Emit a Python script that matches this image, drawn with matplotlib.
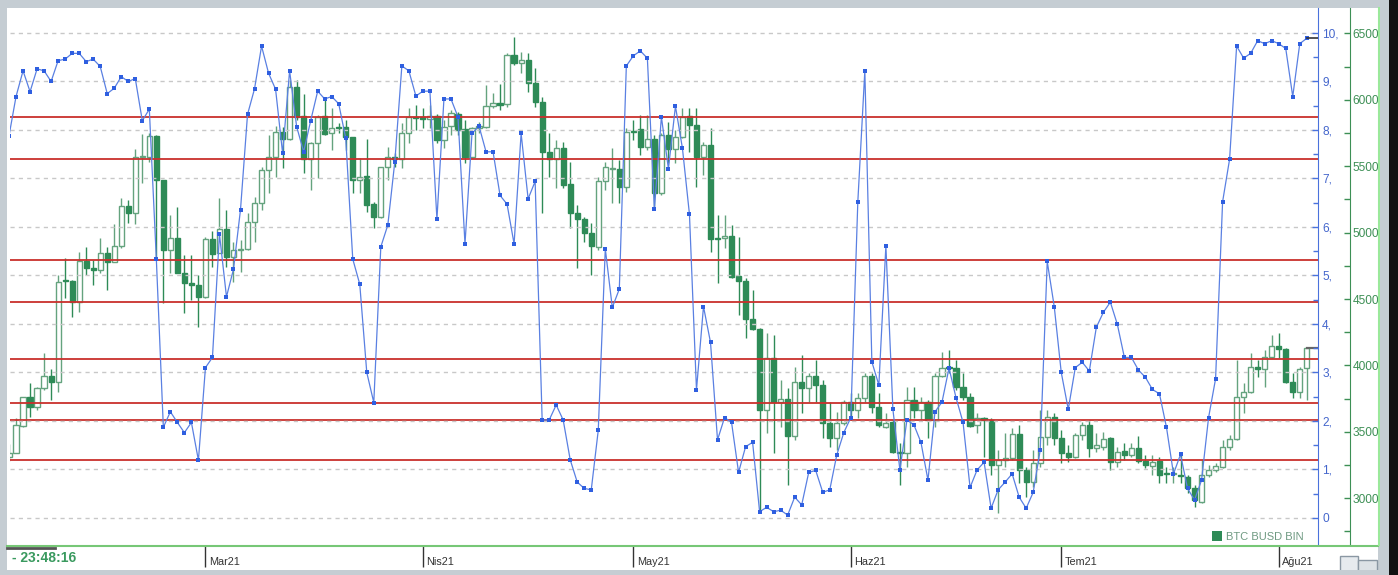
import numpy as np
import pandas as pd
import matplotlib
matplotlib.use("Agg")
from matplotlib import pyplot as plt
from matplotlib.patches import Rectangle
from matplotlib.lines import Line2D

plt.rcParams['font.family'] = ['Liberation Sans', 'DejaVu Sans']

# daily candles, 1 Feb 2021 .. 5 Aug 2021 (BTC BUSD, Binance)
dates = pd.date_range("2021-02-01", "2021-08-05", freq="D")

opens = [33100, 33440, 35440, 37600, 36900, 38280, 39210, 38780, 46400, 46390,
         44810, 47890, 47320, 47190, 48500, 47820, 49000, 52010, 51460, 55730,
         55730, 57280, 53970, 48700, 49580, 46940, 46190, 46060, 45130, 49500,
         48450, 50250, 48200, 48700, 48750, 50830, 52260, 54720, 55680, 57610,
         57030, 61000, 58790, 55520, 56780, 58790, 57480, 57930, 57930, 57180,
         53970, 54270, 52140, 51210, 54920, 55680, 55520, 57480, 58690, 58690,
         58540, 58790, 56980, 58030, 58940, 57780, 55730, 57860, 57980, 59540,
         59790, 59670, 63380, 62750, 63000, 61250, 59870, 56100, 55520, 56350,
         53640, 51510, 51010, 49950, 48950, 53890, 54770, 54770, 53470, 57660,
         57780, 56430, 57030, 53010, 57360, 56280, 57180, 58790, 58110, 55730,
         56600, 49580, 49580, 49750, 46740, 46360, 43480, 42720, 36650, 40540,
         37280, 37450, 34690, 38780, 38280, 39210, 38530, 35650, 34520, 35650,
         37280, 36650, 37530, 39210, 36850, 35390, 35770, 33510, 33390, 37400,
         36650, 37280, 35900, 39210, 39860, 39790, 38410, 37650, 35520, 36070,
         35900, 32510, 32880, 33010, 34820, 32130, 31250, 32630, 34640, 36150,
         34570, 33390, 33140, 34770, 35520, 33760, 33890, 34520, 32760, 33560,
         33260, 33810, 32830, 32430, 32830, 31850, 31810, 31750, 31580, 30750,
         29750, 31750, 32130, 32380, 33840, 34440, 37650, 38030, 39860, 39710,
         40620, 41470, 41220, 38780, 38030, 39790]
highs = [34100, 36020, 37650, 38660, 38410, 40920, 39710, 46810, 48070, 46440,
         48570, 48950, 47940, 49580, 48950, 50660, 52590, 52460, 56280, 57430,
         57480, 57360, 53970, 51330, 51960, 48320, 48320, 46810, 49650, 50150,
         52590, 51710, 49320, 49450, 51460, 52710, 54970, 57360, 58030, 57980,
         61500, 61500, 60440, 56850, 58860, 59990, 59360, 58230, 58490, 57230,
         55600, 57030, 52340, 54970, 56480, 55980, 58240, 59360, 59620, 59360,
         59620, 58940, 58490, 59240, 59110, 58490, 57980, 58360, 61120, 60490,
         61200, 63510, 64760, 63630, 63510, 62380, 60240, 57480, 56980, 56850,
         55350, 52090, 51210, 50710, 54220, 55350, 56350, 55470, 57860, 58490,
         58860, 58860, 57360, 57480, 58360, 57730, 59360, 59360, 59360, 56850,
         57860, 51330, 51330, 50580, 49700, 46560, 45690, 42800, 42420, 42300,
         38910, 38280, 39910, 40790, 39410, 40410, 38910, 37280, 36520, 37400,
         37900, 37900, 39410, 39410, 37900, 36400, 35900, 34140, 38410, 38410,
         37650, 37400, 39410, 41040, 41170, 40410, 39410, 37900, 36450, 36150,
         36020, 33640, 34890, 35270, 35520, 32380, 33640, 36650, 36650, 36400,
         35140, 34010, 34890, 35770, 35900, 34890, 35020, 34640, 33890, 34140,
         34190, 34690, 33260, 33260, 33140, 32380, 32380, 33390, 31750, 31000,
         32880, 32510, 32630, 34390, 34770, 40410, 38660, 40920, 40410, 41170,
         42300, 42470, 41290, 39410, 39910, 41290]
lows = [32800, 33390, 35390, 36150, 36650, 38160, 37400, 38030, 45060, 43680,
        44050, 46810, 46060, 46940, 45690, 47820, 48820, 50710, 50660, 53770,
        55350, 47940, 44730, 46940, 46940, 43980, 44930, 42920, 45060, 47440,
        48700, 47440, 46310, 47070, 48700, 49320, 51710, 52960, 54220, 54850,
        56980, 58490, 54470, 53220, 54090, 57360, 56230, 57530, 56230, 52960,
        52960, 51580, 50330, 51080, 53970, 54970, 54850, 56730, 57730, 57860,
        57860, 56730, 56350, 57360, 57360, 55220, 55600, 57480, 57860, 59360,
        59240, 59490, 62630, 62000, 60620, 59490, 51510, 54220, 53340, 53340,
        50330, 47320, 49320, 46810, 48700, 53220, 52210, 52210, 53090, 56980,
        55850, 56230, 51830, 52840, 55220, 55220, 57110, 56100, 53470, 54340,
        48570, 46190, 48820, 46560, 43800, 42050, 42670, 28870, 34890, 33390,
        35390, 31000, 34390, 36400, 37280, 37280, 34520, 33890, 33640, 35520,
        35900, 36020, 37280, 36400, 35390, 35270, 33390, 31000, 32380, 36020,
        35900, 34520, 35390, 39160, 39410, 38160, 37400, 35390, 34890, 33140,
        31750, 28870, 32380, 32880, 31130, 30120, 30880, 32380, 34010, 34010,
        32630, 32760, 33010, 34390, 33140, 33510, 33640, 32130, 32380, 32880,
        33140, 32630, 32260, 31750, 31130, 31130, 31130, 31130, 30370, 29370,
        29620, 31630, 32010, 32260, 33640, 34390, 36400, 37900, 39160, 38410,
        40540, 40540, 38660, 37530, 37530, 37400]
closes = [33440, 35520, 37600, 36900, 38280, 39210, 38780, 46310, 46330, 44810,
          47890, 47320, 47190, 48500, 47820, 49000, 52010, 51460, 55730, 55780,
          57280, 53970, 48700, 49580, 46940, 46190, 46060, 45130, 49500, 48400,
          50250, 48200, 48700, 48750, 50830, 52260, 54720, 55680, 57610, 57030,
          61000, 58740, 55520, 56780, 58740, 57430, 57860, 57860, 57180, 53970,
          54220, 52090, 51210, 54920, 55680, 55520, 57480, 58690, 58610, 58540,
          58790, 56980, 57980, 58990, 57730, 55730, 57860, 58030, 59540, 59790,
          59620, 63380, 62750, 63000, 61250, 59870, 56100, 55520, 56350, 53590,
          51510, 51010, 49950, 49000, 53890, 54920, 54850, 53470, 57610, 57600,
          56430, 57030, 53010, 57360, 56280, 57230, 58740, 58110, 55680, 56600,
          49500, 49500, 49750, 46690, 46360, 43480, 42720, 36650, 40540, 37280,
          37450, 34690, 38780, 38280, 39210, 38530, 35650, 34520, 35650, 37280,
          36650, 37530, 39210, 36850, 35520, 35650, 33510, 33390, 37400, 36650,
          37280, 35900, 39210, 39790, 39790, 38410, 37650, 35440, 36070, 35900,
          32510, 32880, 33010, 34820, 32130, 31250, 32630, 34640, 36150, 34520,
          33390, 33140, 34770, 35520, 33760, 34010, 34440, 32760, 33510, 33260,
          33760, 32830, 32510, 32760, 31750, 31810, 31850, 31700, 30750, 29870,
          31750, 32130, 32430, 33890, 34440, 37650, 38030, 39860, 39710, 40620,
          41470, 41220, 38780, 38030, 39710, 41290]

# oscillator (0..10 scale, blue)
osc = [7.88, 8.69, 9.22, 8.79, 9.26, 9.22, 9.00, 9.43, 9.46, 9.58,
       9.58, 9.41, 9.46, 9.31, 8.75, 8.86, 9.10, 9.00, 9.06, 8.19,
       8.43, 5.34, 1.87, 2.19, 1.97, 1.76, 1.97, 1.19, 3.10, 3.31,
       5.85, 4.56, 5.13, 6.36, 8.32, 8.85, 9.73, 9.17, 8.84, 7.52,
       9.22, 8.07, 7.55, 8.19, 8.80, 8.64, 8.69, 8.54, 7.83, 5.34,
       4.82, 3.00, 2.38, 5.59, 6.04, 7.35, 9.32, 9.22, 8.70, 8.80,
       8.80, 6.16, 8.64, 8.64, 8.27, 5.65, 7.93, 8.08, 7.55, 7.55,
       6.65, 6.47, 5.65, 7.93, 6.58, 6.94, 2.02, 2.02, 2.33, 2.02,
       1.20, 0.74, 0.61, 0.58, 1.81, 5.55, 4.34, 4.72, 9.32, 9.53,
       9.63, 9.48, 6.37, 8.27, 7.20, 8.49, 7.62, 6.26, 2.64, 4.36,
       3.62, 1.61, 2.07, 1.97, 0.94, 1.47, 1.56, 0.13, 0.22, 0.13,
       0.16, 0.06, 0.43, 0.27, 0.94, 0.98, 0.53, 0.58, 1.30, 1.76,
       2.07, 6.52, 9.22, 3.22, 2.74, 5.61, 2.24, 0.99, 2.02, 1.92,
       1.56, 0.78, 2.19, 2.39, 3.09, 2.48, 1.97, 0.63, 0.99, 1.15,
       0.20, 0.58, 0.74, 0.91, 0.43, 0.20, 0.53, 1.40, 5.29, 4.36,
       3.00, 2.24, 3.10, 3.21, 3.03, 3.93, 4.24, 4.45, 3.99, 3.31,
       3.31, 3.05, 2.90, 2.65, 2.56, 1.87, 0.91, 1.31, 0.61, 0.37,
       0.78, 2.07, 2.87, 6.52, 7.40, 9.73, 9.48, 9.58, 9.84, 9.78,
       9.84, 9.78, 9.68, 8.69, 9.78, 9.89]

# horizontal price levels (red)
levels = [58740, 55520, 47940, 44760, 40460, 37150, 35900, 32880]

tr_months = {1: "Oca", 2: "Şub", 3: "Mar", 4: "Nis", 5: "May", 6: "Haz",
             7: "Tem", 8: "Ağu", 9: "Eyl", 10: "Eki", 11: "Kas", 12: "Ara"}

W, H = 1398, 575
BG = "#c5cdd3"
GREEN_DN = "#2e8b57"
GREEN_UP = "#64a37e"
GREEN_AX = "#3d8f55"
BLUE = "#4a72dc"

fig = plt.figure(figsize=(W / 100, H / 100), dpi=100)
fig.patch.set_facecolor(BG)


def fbox(x0, y0, x1, y1, **kw):
    # rectangle in pixel coords (origin top-left)
    r = Rectangle((x0 / W, 1 - y1 / H), (x1 - x0) / W, (y1 - y0) / H,
                  transform=fig.transFigure, **kw)
    fig.add_artist(r)
    return r


def fline(xs, ys, **kw):
    ln = Line2D([x / W for x in xs], [1 - y / H for y in ys],
                transform=fig.transFigure, **kw)
    fig.add_artist(ln)
    return ln


# white chart panel
fbox(7, 8, 1378, 570, facecolor="white", edgecolor="none", zorder=-5)

ax = fig.add_axes([10 / W, 1 - 545 / H, 1308 / W, 537 / H])
ax.set_facecolor("white")
ax2 = ax.twinx()   # oscillator scale, created first so ax keeps right ticks

x = np.arange(len(dates))
o = np.array(opens, float)
h = np.array(highs, float)
l = np.array(lows, float)
c = np.array(closes, float)
up = c >= o

# candles
wick_cols = [GREEN_UP if u else GREEN_DN for u in up]
ax.vlines(x, l, h, colors=wick_cols, linewidth=1.0, zorder=2)
body_bot = np.minimum(o, c)
body_h = np.maximum(np.abs(c - o), 70)
ax.bar(x, body_h, bottom=body_bot, width=0.74,
       color=["white" if u else GREEN_DN for u in up],
       edgecolor=[GREEN_UP if u else GREEN_DN for u in up],
       linewidth=1.0, zorder=3)

for lv in levels:
    ax.axhline(lv, color="#c9302c", linewidth=1.3, zorder=4)

xmin, xmax = 0.14, 186.6
ax.set_xlim(xmin, xmax)
ax.set_ylim(26480, 66920)

# last price marker
ax.plot([x[-1], xmax], [c[-1], c[-1]], color="#666666", linewidth=1.6, zorder=4)

for s in ["top", "left", "bottom"]:
    ax.spines[s].set_visible(False)
ax.spines["right"].set_visible(True)
ax.spines["right"].set_position(("outward", 23))
ax.spines["right"].set_color(GREEN_AX)
ax.yaxis.tick_right()
ax.set_yticks(np.arange(30000, 65001, 5000))
ax.set_yticks(np.arange(27500, 67500, 5000), minor=True)
ax.set_yticklabels([f"{v:d}" for v in range(30000, 65001, 5000)])
ax.tick_params(axis="y", which="both", left=False, labelleft=False,
               right=True, labelright=True)
ax.tick_params(axis="y", which="major", direction="in", length=4.5, width=1,
               color=GREEN_AX, labelcolor=GREEN_AX, labelsize=8.6, pad=2)
ax.tick_params(axis="y", which="minor", direction="in", length=4.5, width=1,
               color=GREEN_AX)

# month ticks along the bottom strip
month_idx = [i for i, d in enumerate(dates) if d.day == 1 and i > 0]
ax.set_xticks(month_idx)
ax.tick_params(axis="x", direction="out", length=16, width=1, color="#333333",
               labelbottom=False)
for i in month_idx:
    d = dates[i]
    ax.annotate(f"{tr_months[d.month]}{d.strftime('%y')}", xy=(i, 0),
                xycoords=("data", "axes fraction"), xytext=(2.5, -12),
                textcoords="offset points", ha="left", va="center",
                fontsize=7.8, color="#333333", annotation_clip=False)

# oscillator axis
ax2.set_ylim(-0.557, 10.515)
ax2.set_xlim(xmin, xmax)
ax2.set_yticks(range(11))
ax2.set_yticks(np.arange(0.5, 10.5, 1.0), minor=True)
ax2.set_yticklabels(["0"] + [f"{v}," for v in range(1, 11)])
ax2.yaxis.grid(True, which="major", color="#c8c8c8", linestyle=(0, (3, 3)),
               linewidth=1)
ax2.set_axisbelow(True)
for s in ["top", "left", "bottom"]:
    ax2.spines[s].set_visible(False)
ax2.spines["right"].set_color(BLUE)
ax2.tick_params(axis="y", which="major", direction="in", length=4.5, width=1,
                color=BLUE, labelcolor="#4466cc", labelsize=8.6, pad=3)
ax2.tick_params(axis="y", which="minor", direction="in", length=3.5, width=1,
                color=BLUE)
ax2.tick_params(axis="x", bottom=False, labelbottom=False)
ax2.plot(x, osc, color="#5a80e2", linewidth=0.9, marker="s", markersize=2.8,
         markerfacecolor="#2f5fe0", markeredgewidth=0, zorder=5)
ax2.plot([x[-1], xmax], [osc[-1], osc[-1]], color="#333333", linewidth=1.2,
         zorder=5)

# frame pieces around the chart
fline([7, 1378], [545.5, 545.5], color="#76c776", linewidth=1.5, zorder=3)
fline([1378.5, 1378.5], [8, 545], color="#9be89b", linewidth=1.5, zorder=3)
fline([7, 55], [548, 548], color="#555555", linewidth=2, zorder=3)
fig.text(12 / W, 1 - 558 / H, "- 23:48:16", color="#3a9a5f", fontsize=10,
         fontweight="bold", ha="left", va="center")

# legend box
fbox(1212, 531, 1222, 541, facecolor=GREEN_DN, edgecolor="none", zorder=3)
fig.text(1226 / W, 1 - 536.5 / H, "BTC BUSD BIN", color="#6f9a82",
         fontsize=8, ha="left", va="center")

# small toolbar button bottom right
fbox(1340, 556, 1358, 573, facecolor="#e6eaee", edgecolor="#8a97a3",
     linewidth=1, zorder=3)
fbox(1358, 560, 1377, 573, facecolor="#dde2e6", edgecolor="#8a97a3",
     linewidth=1, zorder=3)

# outer window border (clips the green labels)
fbox(1380, 0, 1398, 575, facecolor=BG, edgecolor="none", zorder=10)
fbox(1389, 0, 1398, 575, facecolor="#111111", edgecolor="none", zorder=11)
fbox(0, 570, 1380, 575, facecolor=BG, edgecolor="none", zorder=10)

fig.savefig("out.png", dpi=100, facecolor=fig.get_facecolor())
